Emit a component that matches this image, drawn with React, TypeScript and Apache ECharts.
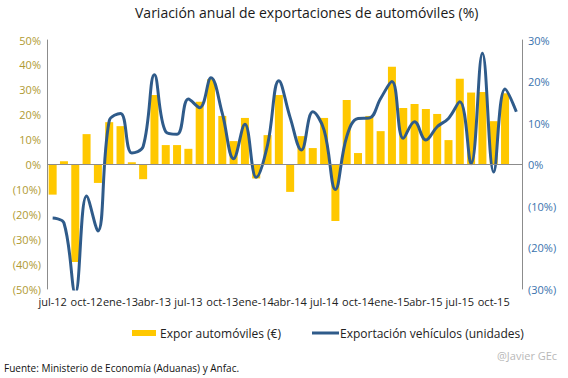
import React, { useEffect, useRef } from "react";
import * as echarts from "echarts";

const categories = [
  "jul-12","ago-12","sep-12","oct-12","nov-12","dic-12",
  "ene-13","feb-13","mar-13","abr-13","may-13","jun-13","jul-13","ago-13","sep-13","oct-13","nov-13","dic-13",
  "ene-14","feb-14","mar-14","abr-14","may-14","jun-14","jul-14","ago-14","sep-14","oct-14","nov-14","dic-14",
  "ene-15","feb-15","mar-15","abr-15","may-15","jun-15","jul-15","ago-15","sep-15","oct-15","nov-15","dic-15",
];

const exporEuros: (number | null)[] = [
  -12.1, 1.3, -39.2, 12.2, -7.4, 17.0,
  15.4, 0.9, -5.9, 27.9, 7.8, 7.8, 6.3, 25.2, 34.2, 19.5, 9.4, 18.7,
  -5.6, 11.8, 27.9, -11.0, 11.4, 6.6, 18.7, -22.7, 25.9, 4.6, 19.5, 13.4,
  39.3, 22.7, 24.3, 22.3, 20.3, 9.8, 34.4, 28.9, 29.1, 17.4, 28.6, null,
];

const exporUnidades = [
  -12.9, -14.1, -31.0, -7.6, -16.0, 10.5,
  12.3, 2.8, 4.3, 21.6, 7.9, 7.3, 15.8, 13.7, 20.9, 12.3, 1.4, 9.7,
  -3.1, 4.7, 20.2, 11.3, 3.5, 12.7, 8.3, -6.0, 6.7, 11.1, 11.2, 15.9,
  20.0, 6.3, 10.3, 5.9, 9.1, 11.1, 15.1, 0.2, 26.8, -1.8, 18.2, 12.7,
];

const seriesNames = ["Expor automóviles (€)", "Exportación vehículos (unidades)"];

const leftTicks = { min: -50, max: 50, interval: 10 };
const rightTicks = { min: -30, max: 30, interval: 10 };

const pct = (v: number) => (v < 0 ? `(${Math.abs(v)}%)` : `${v}%`);

const BAR_COLOR = "#FFC800";
const LINE_COLOR = "#2F5B8A";

export default function App() {
  const ref = useRef<HTMLDivElement>(null);
  useEffect(() => {
    if (!ref.current) return;
    const chart = echarts.init(ref.current, undefined, { renderer: "svg" });
    const font = "'Open Sans', sans-serif";
    chart.setOption({
      animation: false,
      backgroundColor: "#ffffff",
      textStyle: { fontFamily: font },
      title: {
        text: "Variación anual de exportaciones de automóviles (%)",
        left: 130,
        top: 0,
        textStyle: { fontFamily: font, fontSize: 14, fontWeight: "normal", color: "#1a1a1a" },
      },
      grid: { left: 47, right: 46, top: 40, bottom: 89, containLabel: false },
      legend: { show: false },
      xAxis: {
        type: "category",
        data: categories,
        axisLine: { show: false, onZero: false },
        axisTick: { show: false },
        axisLabel: {
          interval: 2,
          color: "#222",
          fontSize: 11,
          fontFamily: font,
          margin: 7,
        },
      },
      yAxis: [
        {
          type: "value",
          ...leftTicks,
          position: "left",
          splitLine: { show: false },
          axisLine: { show: true, lineStyle: { color: "#8c8c8c", width: 1 } },
          axisTick: { show: false },
          axisLabel: { formatter: pct, color: "#B09A32", fontSize: 11, fontFamily: font, margin: 6 },
        },
        {
          type: "value",
          ...rightTicks,
          position: "right",
          splitLine: { show: false },
          axisLine: { show: true, lineStyle: { color: "#8c8c8c", width: 1 } },
          axisTick: { show: false },
          axisLabel: { formatter: pct, color: "#3A73AE", fontSize: 11, fontFamily: font, margin: 6 },
        },
      ],
      series: [
        {
          name: seriesNames[0],
          type: "bar",
          yAxisIndex: 0,
          data: exporEuros,
          barWidth: 8,
          itemStyle: { color: BAR_COLOR },
          markLine: {
            silent: true,
            symbol: "none",
            label: { show: false },
            lineStyle: { color: "#8c8c8c", type: "solid", width: 1 },
            data: [{ yAxis: 0 }],
          },
        },
        {
          name: seriesNames[1],
          type: "line",
          yAxisIndex: 1,
          data: exporUnidades,
          smooth: 0.4,
          showSymbol: false,
          symbol: "none",
          clip: true,
          lineStyle: { color: LINE_COLOR, width: 3 },
          itemStyle: { color: LINE_COLOR },
          z: 3,
        },
      ],
      graphic: [
        { type: "rect", shape: { x: 132, y: 330, width: 24, height: 6 }, style: { fill: BAR_COLOR } },
        {
          type: "text",
          x: 160,
          y: 333,
          style: { text: seriesNames[0], fontSize: 12, fontFamily: font, fill: "#222", verticalAlign: "middle" },
        },
        {
          type: "line",
          shape: { x1: 312, y1: 333, x2: 339, y2: 333 },
          style: { stroke: LINE_COLOR, lineWidth: 3 },
        },
        {
          type: "text",
          x: 340,
          y: 333,
          style: { text: seriesNames[1], fontSize: 12, fontFamily: font, fill: "#222", verticalAlign: "middle" },
        },
        {
          type: "text",
          x: 4,
          y: 368,
          style: {
            text: "Fuente: Ministerio de Economía (Aduanas) y Anfac.",
            fontSize: 10,
            fontFamily: font,
            fill: "#111",
            verticalAlign: "middle",
          },
        },
        {
          type: "text",
          x: 497,
          y: 355,
          style: {
            text: "@Javier GEc",
            fontSize: 11,
            fontFamily: font,
            fill: "#b8b8b8",
            verticalAlign: "middle",
          },
        },
      ],
    });
    return () => chart.dispose();
  }, []);
  return <div ref={ref} style={{ width: 568, height: 378, position: "absolute", left: 0, top: 0 }} />;
}
